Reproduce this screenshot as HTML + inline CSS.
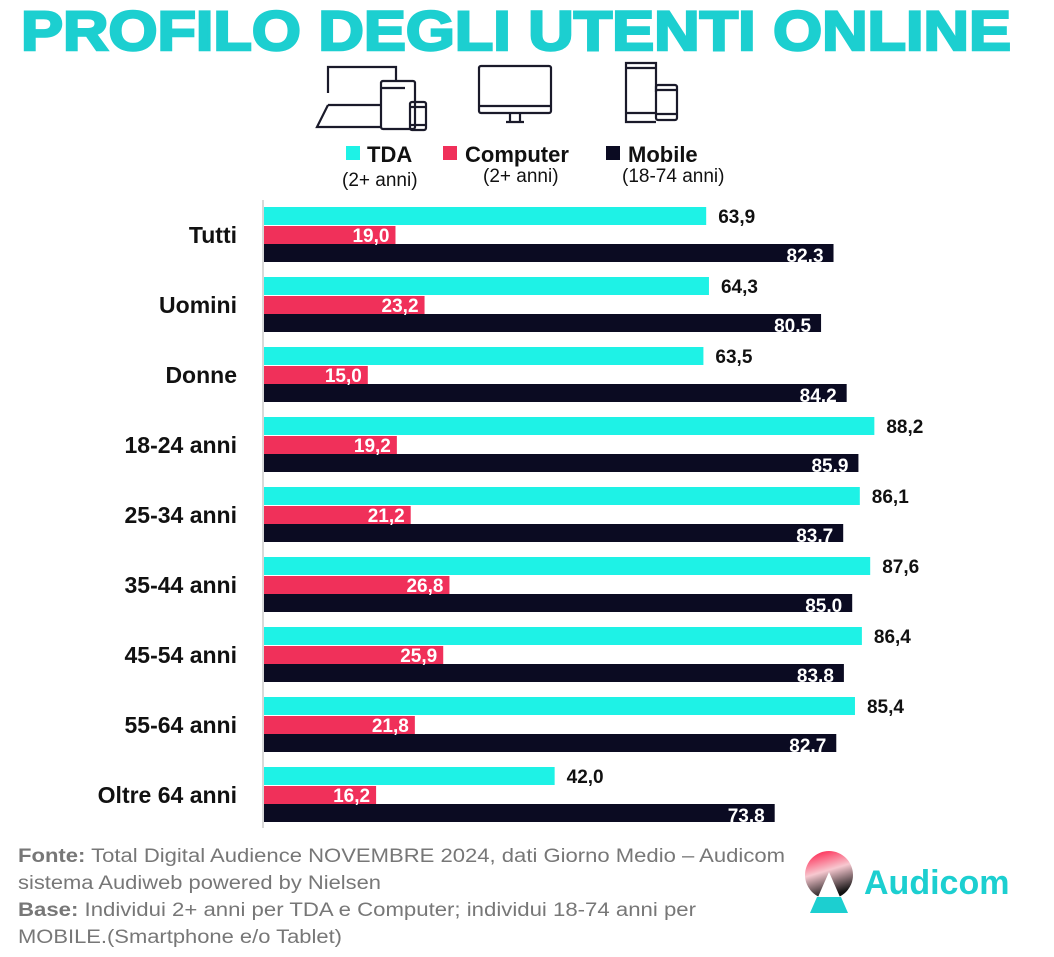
<!DOCTYPE html>
<html><head><meta charset="utf-8"><style>
body{margin:0;background:#fff;width:1054px;height:952px;overflow:hidden;font-family:"Liberation Sans",Arial,sans-serif}
</style></head><body>
<svg width="1054" height="952" viewBox="0 0 1054 952" xmlns="http://www.w3.org/2000/svg" font-family="Liberation Sans, Arial, sans-serif">
<text x="516" y="50" text-anchor="middle" font-size="56" font-weight="900" fill="#1ccfd0" stroke="#1ccfd0" stroke-width="2.5" textLength="990" lengthAdjust="spacingAndGlyphs">PROFILO DEGLI UTENTI ONLINE</text>
<g fill="none" stroke="#1a1a2a" stroke-width="2.2">
<path d="M328 93V67h68v15"/><path d="M328 105 317 127h65"/><line x1="328" y1="105" x2="380" y2="105"/>
<rect x="381" y="81" width="34" height="48" rx="2"/><line x1="381" y1="88" x2="405" y2="88"/>
<rect x="410" y="102" width="16" height="28" rx="2"/><line x1="410" y1="107" x2="426" y2="107"/><line x1="410" y1="125" x2="426" y2="125"/>
<rect x="479" y="66" width="72" height="47" rx="2"/><line x1="479" y1="106" x2="551" y2="106"/><path d="M510 113v8M520 113v8M506 122h18"/>
<path d="M656 92V63h-30v59h30"/><line x1="626" y1="68" x2="656" y2="68"/><line x1="626" y1="113" x2="655" y2="113"/>
<rect x="656" y="85" width="21" height="35" rx="2"/><line x1="656" y1="90" x2="677" y2="90"/><line x1="656" y1="114" x2="677" y2="114"/>
</g>
<rect x="346" y="146" width="14" height="14" fill="#1ef2e6"/>
<text x="367" y="162" font-size="22" font-weight="bold" fill="#111">TDA</text>
<text x="342" y="186" font-size="19" fill="#111">(2+ anni)</text>
<rect x="443" y="146" width="14" height="14" fill="#f0305a"/>
<text x="465" y="162" font-size="22" font-weight="bold" fill="#111">Computer</text>
<text x="483" y="182" font-size="19" fill="#111">(2+ anni)</text>
<rect x="606" y="146" width="14" height="14" fill="#0b0b22"/>
<text x="628" y="162" font-size="22" font-weight="bold" fill="#111">Mobile</text>
<text x="622" y="182" font-size="19" fill="#111">(18-74 anni)</text>
<line x1="263" y1="200" x2="263" y2="828" stroke="#ccc" stroke-width="1.5"/>
<text x="18" y="862" font-size="19" fill="#777" textLength="767" lengthAdjust="spacingAndGlyphs"><tspan font-weight="bold">Fonte:</tspan> Total Digital Audience NOVEMBRE 2024, dati Giorno Medio – Audicom</text>
<text x="18" y="889" font-size="19" fill="#777" textLength="363" lengthAdjust="spacingAndGlyphs">sistema Audiweb powered by Nielsen</text>
<text x="18" y="916" font-size="19" fill="#777" textLength="678" lengthAdjust="spacingAndGlyphs"><tspan font-weight="bold">Base:</tspan>  Individui 2+ anni per TDA e Computer; individui 18-74 anni per</text>
<text x="18" y="943" font-size="19" fill="#777" textLength="324" lengthAdjust="spacingAndGlyphs">MOBILE.(Smartphone e/o Tablet)</text>
<defs>
<linearGradient id="lg2" x1="0" y1="0" x2="0.3" y2="1"><stop offset="0" stop-color="#ff1040"/><stop offset="0.5" stop-color="#f7c8d0"/><stop offset="1" stop-color="#111"/></linearGradient></defs>
<circle cx="829" cy="875" r="24" fill="url(#lg2)"/>
<path d="M829 872 L847 913 H811 Z" fill="#fff"/>
<path d="M817 897 H841 L848 913 H810 Z" fill="#1ccfd0"/>
<text x="864" y="894" font-size="34" font-weight="bold" fill="#1ccfd0">Audicom</text>
<g id="g"></g>
</svg>
<script>
var d=[["Tutti",63.9,19.0,82.3],["Uomini",64.3,23.2,80.5],["Donne",63.5,15.0,84.2],["18-24 anni",88.2,19.2,85.9],["25-34 anni",86.1,21.2,83.7],["35-44 anni",87.6,26.8,85.0],["45-54 anni",86.4,25.9,83.8],["55-64 anni",85.4,21.8,82.7],["Oltre 64 anni",42.0,16.2,73.8]];
var s="",k=6.92,x0=264,f=function(v){return v.toFixed(1).replace('.',',')};
d.forEach(function(r,i){var y=207+70*i;
var w1=r[1]*k,w2=r[2]*k,w3=r[3]*k;
s+='<rect x="'+x0+'" y="'+y+'" width="'+w1+'" height="18" fill="#1ef2e6"/>';
s+='<rect x="'+x0+'" y="'+(y+19)+'" width="'+w2+'" height="18" fill="#f0305a"/>';
s+='<rect x="'+x0+'" y="'+(y+37)+'" width="'+w3+'" height="18" fill="#0b0b22"/>';
s+='<text x="'+(x0+w1+12)+'" y="'+(y+16)+'" font-size="19" font-weight="bold" fill="#111">'+f(r[1])+'</text>';
s+='<text x="'+(x0+w2-6)+'" y="'+(y+35)+'" text-anchor="end" font-size="19" font-weight="bold" fill="#fff">'+f(r[2])+'</text>';
s+='<text x="'+(x0+w3-10)+'" y="'+(y+55)+'" text-anchor="end" font-size="19" font-weight="bold" fill="#fff">'+f(r[3])+'</text>';
s+='<text x="237" y="'+(y+36)+'" text-anchor="end" font-size="23" font-weight="bold" fill="#111">'+r[0]+'</text>';
});
document.getElementById('g').innerHTML=s;
</script>
</body></html>
